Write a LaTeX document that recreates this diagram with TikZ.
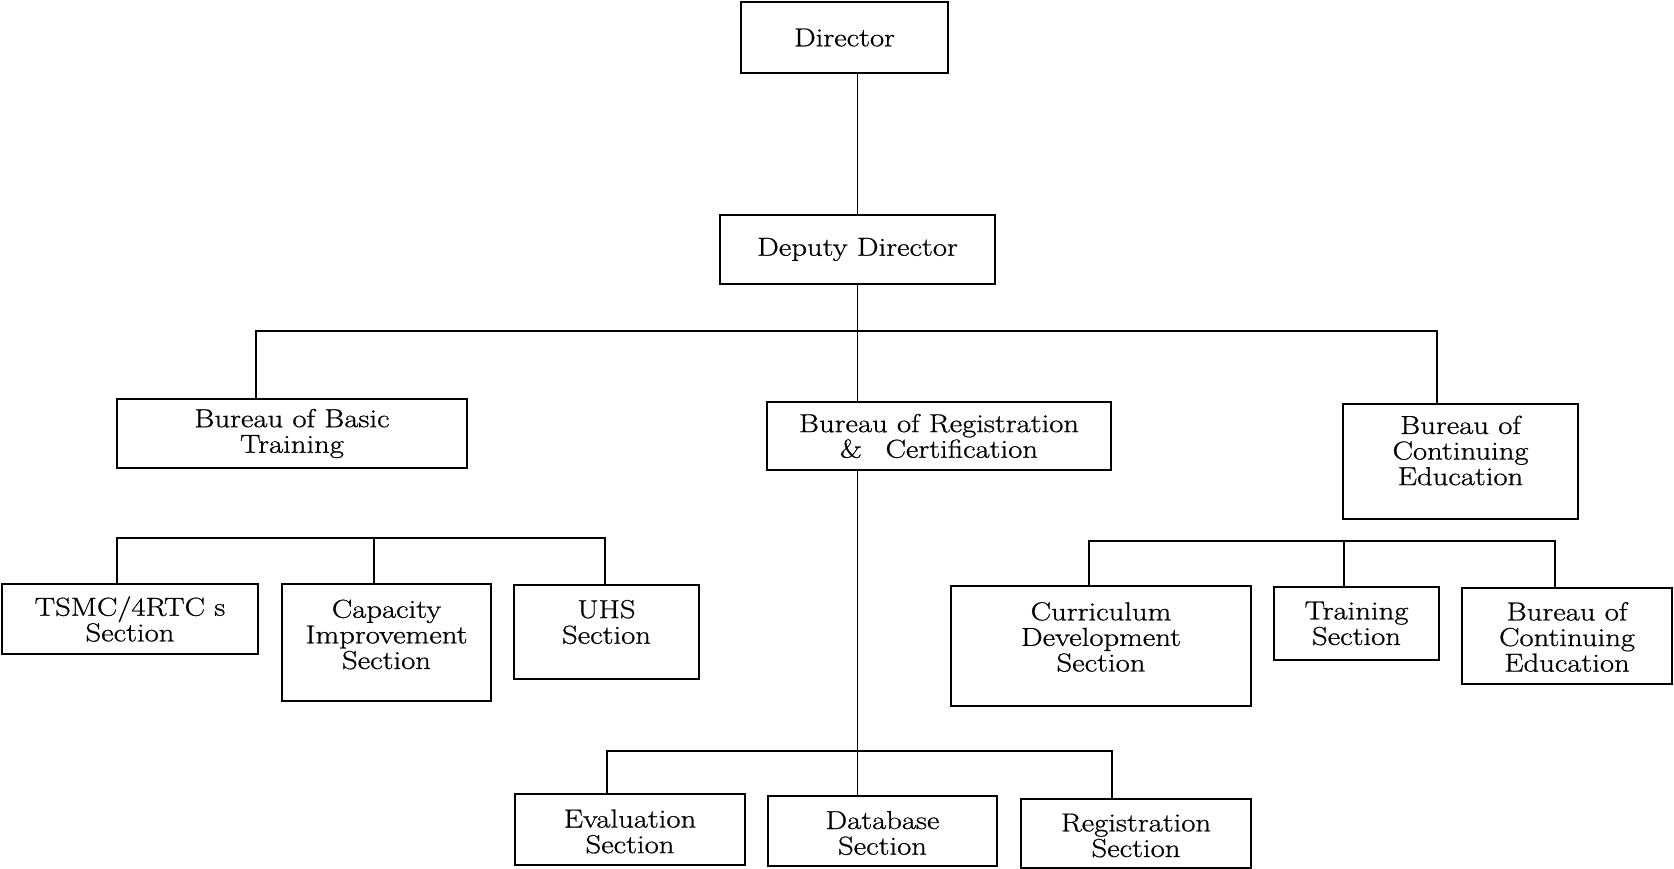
\documentclass[tikz,border=0pt]{standalone}
\usepackage{fontspec}
\newfontfamily\orgfont{Latin Modern Roman}[FakeBold=0.8, FakeStretch=1.18]
\begin{document}
\begin{tikzpicture}[x=1pt,y=-1pt,
  box/.style={draw, line width=1.9pt, inner sep=0pt},
  lbl/.style={align=center, inner sep=0pt, font=\orgfont\fontsize{26}{25.6}\selectfont},
  wire/.style={line width=1.9pt}]
\useasboundingbox (0,0) rectangle (1674,869);
% \orgbox{name}{left}{top}{right}{bottom}{text lift}{text}
\newcommand\orgbox[7]{%
  \node[box, minimum width={#4-#2}, minimum height={#5-#3}]
    (#1) at ({(#2+#4)/2},{(#3+#5)/2}) {};
  \node[lbl] (#1-t) at ([yshift=#6pt]#1.center) {#7};}

% top of the hierarchy
\orgbox{dir}{741}{2}{948}{73}{0}{Director}
\orgbox{dep}{720}{215}{995}{284}{0}{Deputy Director}

% bureaus
\orgbox{bbt}{117}{399}{467}{468}{0}{Bureau of Basic\\Training}
\orgbox{reg}{767}{402}{1111}{470}{0}{Bureau of Registration\\\&\hspace*{0.9em}Certification}
\orgbox{bce}{1343}{404}{1578}{519}{11}{Bureau of\\Continuing\\Education}

% sections under Basic Training
\orgbox{tsmc}{2}{584}{258}{654}{0}{TSMC/4RTC s\\Section}
\orgbox{cap}{282}{584}{491}{701}{8}{Capacity\\Improvement\\Section}
\orgbox{uhs}{514}{585}{699}{679}{10}{UHS\\Section}

% sections under Continuing Education
\orgbox{cur}{951}{586}{1251}{706}{9}{Curriculum\\Development\\Section}
\orgbox{trn}{1274}{587}{1439}{660}{0}{Training\\Section}
\orgbox{ce2}{1462}{588}{1672}{684}{-1}{Bureau of\\Continuing\\Education}

% sections under Registration & Certification
\orgbox{eva}{515}{794}{745}{865}{-2}{Evaluation\\Section}
\orgbox{dbs}{768}{796}{997}{866}{-2}{Database\\Section}
\orgbox{rgs}{1021}{799}{1251}{868}{-2}{Registration\\Section}

% bus bar corners
\coordinate (busL) at (256,331);
\coordinate (busR) at (1437,331);
\coordinate (sl1) at (117,538);
\coordinate (sl2) at (374,538);
\coordinate (sl3) at (605,538);
\coordinate (sr1) at (1089,541);
\coordinate (sr2) at (1344,541);
\coordinate (sr3) at (1555,541);
\coordinate (sb1) at (607,751);
\coordinate (sb3) at (1112,751);

% main trunk
\draw[wire] (dep.north) -- (dep.north |- dir.south);
\draw[wire] (dep.south) -- (dep.south |- reg.north);
\draw[wire] (bbt.north -| busL) -- (busL) -- (busR) -- (busR |- bce.north);
\draw[wire] (reg.south -| dep.south) -- (dbs.north -| dep.south);

% section buses
\draw[wire] (tsmc.north -| sl1) -- (sl1) -- (sl3) -- (uhs.north -| sl3);
\draw[wire] (sl2) -- (cap.north -| sl2);
\draw[wire] (cur.north -| sr1) -- (sr1) -- (sr3) -- (ce2.north -| sr3);
\draw[wire] (sr2) -- (trn.north -| sr2);
\draw[wire] (eva.north -| sb1) -- (sb1) -- (sb3) -- (rgs.north -| sb3);
\end{tikzpicture}
\end{document}
